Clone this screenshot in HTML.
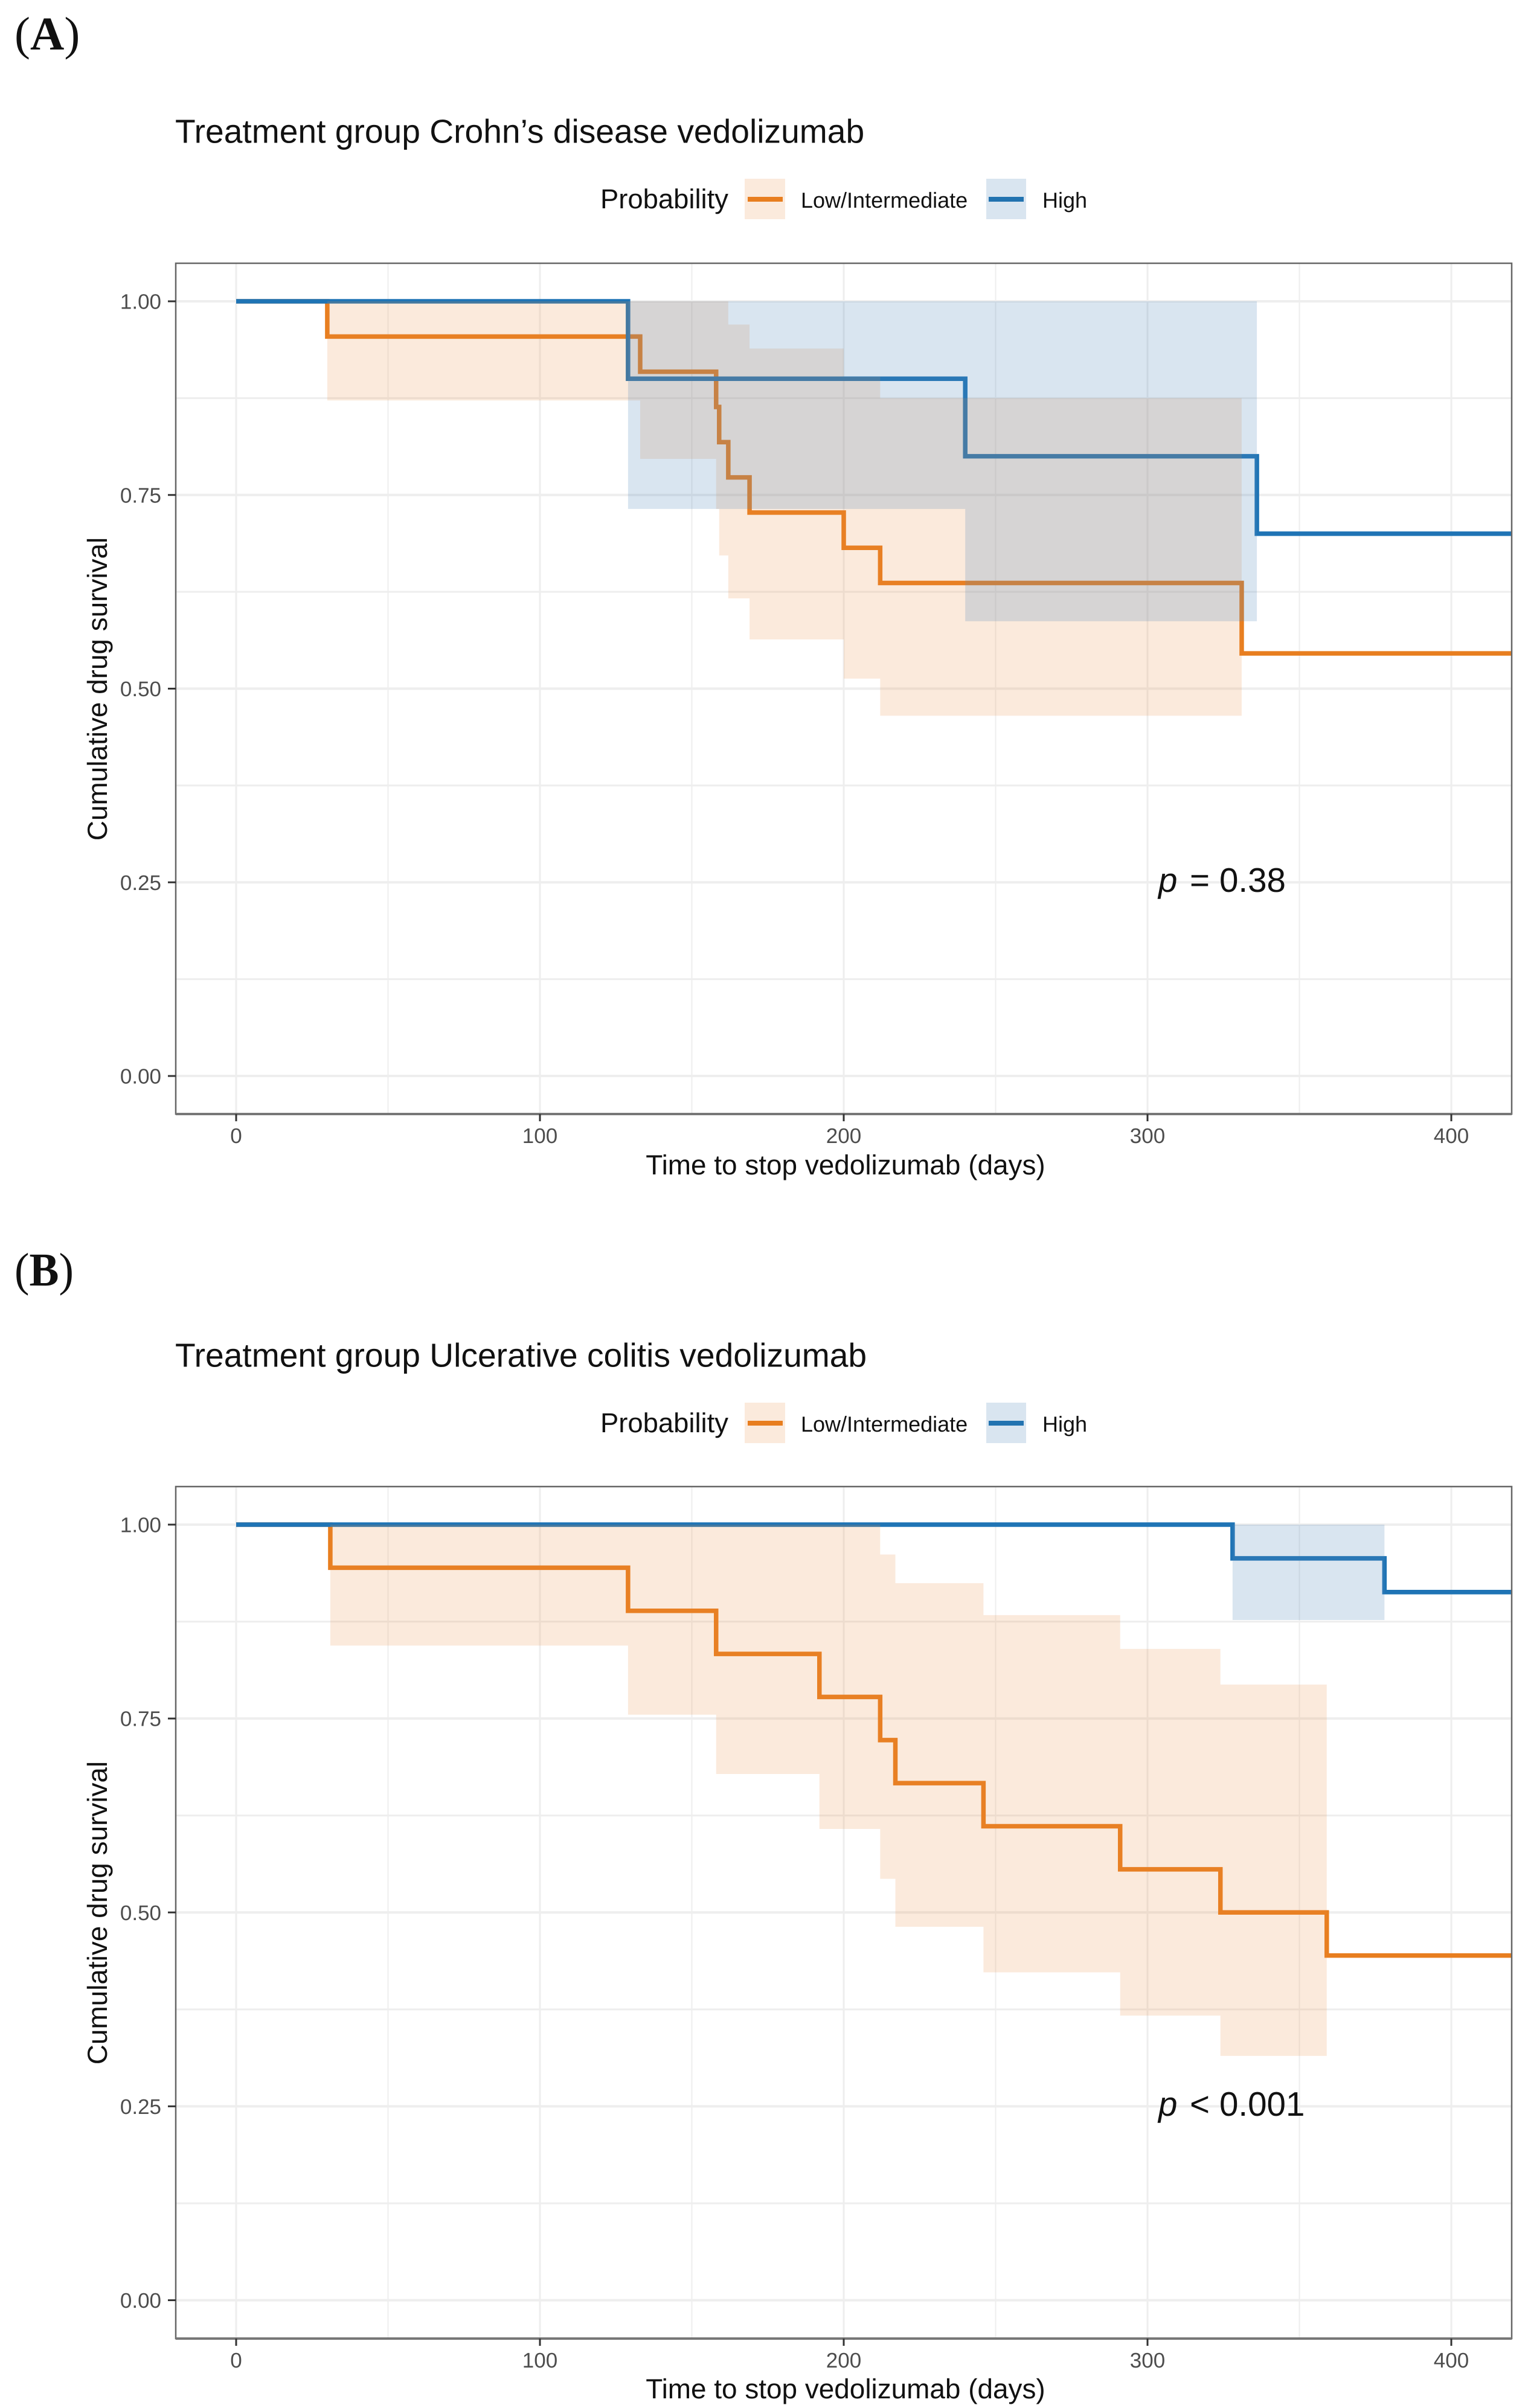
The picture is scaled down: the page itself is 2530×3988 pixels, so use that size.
<!DOCTYPE html>
<html lang="en">
<head>
<meta charset="utf-8">
<title>Cumulative drug survival of vedolizumab</title>
<style>
html,body{margin:0;padding:0;background:#fff;}
svg{display:block;}
text{font-family:"Liberation Sans",sans-serif;text-rendering:geometricPrecision;fill:#111;}
.serif{font-family:"Liberation Serif",serif;font-size:78px;}
.title{font-size:55.2px;}
.legend-title{font-size:45.4px;}
.legend-label{font-size:36px;}
.axis-title{font-size:45.9px;}
.tick-label{font-size:35px;fill:#4d4d4d;}
.pval{font-size:56.5px;}
</style>
</head>
<body>
<svg id="figure" xmlns="http://www.w3.org/2000/svg" width="2530" height="3988" viewBox="0 0 2530 3988">
  <rect x="0" y="0" width="2530" height="3988" fill="#ffffff"/>

  <text class="serif" x="24" y="82">(<tspan font-weight="bold">A</tspan>)</text>
  <text class="title" x="290" y="236.5">Treatment group Crohn’s disease vedolizumab</text>
  <g>
    <text class="legend-title" x="994" y="345">Probability</text>
    <rect x="1233" y="296" width="67" height="67" fill="#fbeadc"/>
    <line x1="1238" x2="1296" y1="330" y2="330" stroke="#e87e1f" stroke-width="8"/>
    <text class="legend-label" x="1326" y="344">Low/Intermediate</text>
    <rect x="1633" y="296" width="66" height="67" fill="#d9e5f0"/>
    <line x1="1637" x2="1695" y1="330" y2="330" stroke="#2273b0" stroke-width="8"/>
    <text class="legend-label" x="1726" y="344">High</text>
  </g>
  <g id="panel-a"></g>
  <text class="axis-title" transform="translate(177,1141) rotate(-90)" text-anchor="middle">Cumulative drug survival</text>
  <text class="axis-title" x="1400" y="1945" text-anchor="middle">Time to stop vedolizumab (days)</text>
  <text class="pval" y="1477"><tspan x="1918" font-style="italic">p</tspan><tspan x="1970">=</tspan><tspan x="2019">0.38</tspan></text>

  <text class="serif" x="24" y="2129" textLength="98" lengthAdjust="spacingAndGlyphs">(<tspan font-weight="bold">B</tspan>)</text>
  <text class="title" x="290" y="2263.5">Treatment group Ulcerative colitis vedolizumab</text>
  <g>
    <text class="legend-title" x="994" y="2372">Probability</text>
    <rect x="1233" y="2323" width="67" height="67" fill="#fbeadc"/>
    <line x1="1238" x2="1296" y1="2357" y2="2357" stroke="#e87e1f" stroke-width="8"/>
    <text class="legend-label" x="1326" y="2371">Low/Intermediate</text>
    <rect x="1633" y="2323" width="66" height="67" fill="#d9e5f0"/>
    <line x1="1637" x2="1695" y1="2357" y2="2357" stroke="#2273b0" stroke-width="8"/>
    <text class="legend-label" x="1726" y="2371">High</text>
  </g>
  <g id="panel-b"></g>
  <text class="axis-title" transform="translate(177,3168) rotate(-90)" text-anchor="middle">Cumulative drug survival</text>
  <text class="axis-title" x="1400" y="3972" text-anchor="middle">Time to stop vedolizumab (days)</text>
  <text class="pval" y="3504"><tspan x="1918" font-style="italic">p</tspan><tspan x="1970">&lt;</tspan><tspan x="2019">0.001</tspan></text>
</svg>

<script>
// Axis values
const xTickValues = [0, 100, 200, 300, 400];
const xTickLabels = ['0', '100', '200', '300', '400'];
const xMinorValues = [50, 150, 250, 350];
const yTickValues = [0, 0.25, 0.5, 0.75, 1];
const yTickLabels = ['0.00', '0.25', '0.50', '0.75', '1.00'];
const yMinorValues = [0.125, 0.375, 0.625, 0.875];

// Panel A: Crohn's disease, low/intermediate probability
const crohnLowTimes = [0, 30, 133, 158, 159, 162, 169, 200, 212, 331];
const crohnLowSurvival = [1, 0.9545, 0.9091, 0.8636, 0.8182, 0.7727, 0.7273, 0.6818, 0.6364, 0.5455];
const crohnLowLower = [1, 0.872, 0.7966, 0.732, 0.672, 0.6165, 0.5635, 0.513, 0.465, null];
const crohnLowUpper = [1, 1, 1, 1, 1, 0.97, 0.939, 0.9026, 0.875, null];

// Panel A: Crohn's disease, high probability
const crohnHighTimes = [0, 129, 240, 336];
const crohnHighSurvival = [1, 0.9, 0.8, 0.7];
const crohnHighLower = [1, 0.732, 0.587, null];
const crohnHighUpper = [1, 1, 1, null];

// Panel B: Ulcerative colitis, low/intermediate probability
const ucLowTimes = [0, 31, 129, 158, 192, 212, 217, 246, 291, 324, 359];
const ucLowSurvival = [1, 0.9444, 0.8889, 0.8333, 0.7778, 0.7222, 0.6667, 0.6111, 0.5556, 0.5, 0.4444];
const ucLowLower = [1, 0.844, 0.755, 0.6785, 0.6076, 0.5433, 0.4815, 0.4227, 0.367, 0.315, null];
const ucLowUpper = [1, 1, 1, 1, 1, 0.9615, 0.9245, 0.8833, 0.8397, 0.7938, null];

// Panel B: Ulcerative colitis, high probability
const ucHighTimes = [0, 328, 378];
const ucHighSurvival = [1, 0.9565, 0.913];
const ucHighLower = [1, 0.877, null];
const ucHighUpper = [1, 1, null];

const SVG_NS = 'http://www.w3.org/2000/svg';
const X_DOMAIN_END = 420;
const ORANGE = '#e87e1f';
const BLUE = '#1f74b5';
const GRID = '#eeeeee';
const LINE_WIDTH = 7.5;

function makeScaleX() {
  return function (t) { return 391 + t * 5.03; };
}
function makeScaleY(y0, y1) {
  return function (v) { return y0 + (y1 - y0) * v; };
}
function linePath(times, values, x, y) {
  let d = 'M' + x(times[0]) + ' ' + y(values[0]);
  for (let i = 1; i < times.length; i++) {
    d += 'H' + x(times[i]) + 'V' + y(values[i]);
  }
  return d + 'H' + x(X_DOMAIN_END);
}
function ribbonPath(times, lower, upper, x, y) {
  const n = upper.indexOf(null);
  let d = 'M' + x(times[0]) + ' ' + y(upper[0]);
  for (let i = 1; i <= n; i++) {
    d += 'H' + x(times[i]);
    if (i < n) d += 'V' + y(upper[i]);
  }
  d += 'V' + y(lower[n - 1]);
  for (let i = n - 1; i >= 1; i--) {
    d += 'H' + x(times[i]) + 'V' + y(lower[i - 1]);
  }
  return d + 'H' + x(times[0]) + 'Z';
}
function addRule(parent, x1, y1, x2, y2, color, width) {
  const el = document.createElementNS(SVG_NS, 'line');
  el.setAttribute('x1', x1);
  el.setAttribute('y1', y1);
  el.setAttribute('x2', x2);
  el.setAttribute('y2', y2);
  el.setAttribute('stroke', color);
  el.setAttribute('stroke-width', width);
  parent.appendChild(el);
  return el;
}
function addPath(parent, d, stroke, width, fill, opacity) {
  const el = document.createElementNS(SVG_NS, 'path');
  el.setAttribute('d', d);
  el.setAttribute('stroke', stroke);
  el.setAttribute('stroke-width', width);
  el.setAttribute('fill', fill);
  el.setAttribute('fill-opacity', opacity);
  parent.appendChild(el);
  return el;
}
function addLabel(parent, x, y, anchor, content) {
  const el = document.createElementNS(SVG_NS, 'text');
  el.setAttribute('class', 'tick-label');
  el.setAttribute('x', x);
  el.setAttribute('y', y);
  el.setAttribute('text-anchor', anchor);
  el.textContent = content;
  parent.appendChild(el);
  return el;
}

function drawPanel(id, box, low, high) {
  const g = document.getElementById(id);
  const x = makeScaleX();
  const y = makeScaleY(box.y0, box.y1);

  xMinorValues.forEach(function (t) {
    const el = addRule(g, x(t), box.top, x(t), box.bottom, GRID, 2);
    
    
  });
  yMinorValues.forEach(function (v) {
    const el = addRule(g, box.left, y(v), box.right, y(v), GRID, 3);
    
    
  });
  xTickValues.forEach(function (t) {
    const el = addRule(g, x(t), box.top, x(t), box.bottom, GRID, 3);
    
    
  });
  yTickValues.forEach(function (v) {
    const el = addRule(g, box.left, y(v), box.right, y(v), GRID, 4);
    
    
  });

  const lowLine = addPath(g, linePath(low.times, low.survival, x, y), ORANGE, LINE_WIDTH, 'none', 0);
  
  
  const highLine = addPath(g, linePath(high.times, high.survival, x, y), BLUE, LINE_WIDTH, 'none', 0);
  
  

  const lowBand = addPath(g, ribbonPath(low.times, low.lower, low.upper, x, y), 'none', 0, '#ea8a3c', 0.18);
  
  
  const highBand = addPath(g, ribbonPath(high.times, high.lower, high.upper, x, y), 'none', 0, '#5288ba', 0.22);
  
  

  const frame = document.createElementNS(SVG_NS, 'rect');
  frame.setAttribute('x', box.left);
  frame.setAttribute('y', box.top);
  frame.setAttribute('width', box.right - box.left);
  frame.setAttribute('height', box.bottom - box.top);
  frame.setAttribute('fill', 'none');
  frame.setAttribute('stroke', '#666666');
  frame.setAttribute('stroke-width', 2.5);
  
  
  g.appendChild(frame);

  const baseline = addRule(g, box.left, box.bottom, box.right, box.bottom, '#777777', 4);
  
  

  xTickValues.forEach(function (t, i) {
    const tick = addRule(g, x(t), box.bottom, x(t), box.bottom + 12, '#333333', 3);
    
    
    const label = addLabel(g, x(t), box.bottom + 48, 'middle', xTickLabels[i]);
    
    
  });
  yTickValues.forEach(function (v, i) {
    const tick = addRule(g, box.left - 13, y(v), box.left, y(v), '#333333', 3);
    
    
    const label = addLabel(g, box.left - 24, y(v) + 12.5, 'end', yTickLabels[i]);
    
    
  });
}

drawPanel('panel-a',
  { left: 291, right: 2503, top: 436, bottom: 1845, y0: 1782, y1: 499 },
  { times: crohnLowTimes, survival: crohnLowSurvival, lower: crohnLowLower, upper: crohnLowUpper },
  { times: crohnHighTimes, survival: crohnHighSurvival, lower: crohnHighLower, upper: crohnHighUpper });

drawPanel('panel-b',
  { left: 291, right: 2503, top: 2462, bottom: 3873, y0: 3809.5, y1: 2525 },
  { times: ucLowTimes, survival: ucLowSurvival, lower: ucLowLower, upper: ucLowUpper },
  { times: ucHighTimes, survival: ucHighSurvival, lower: ucHighLower, upper: ucHighUpper });
</script>
</body>
</html>
